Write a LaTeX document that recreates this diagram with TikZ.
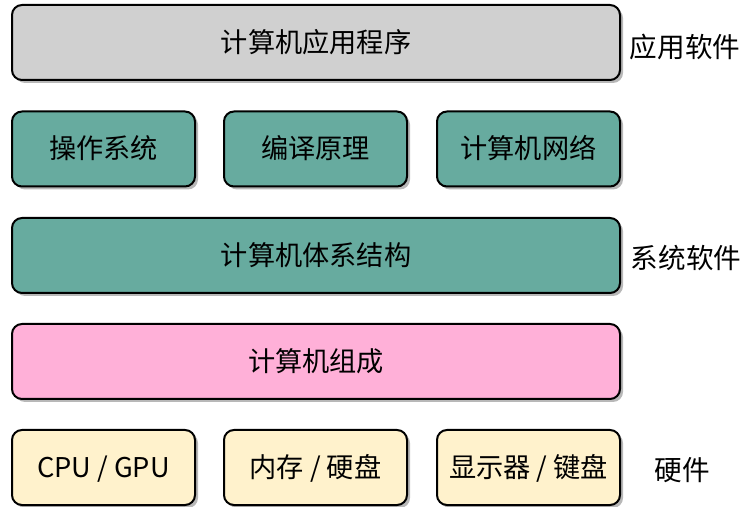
\documentclass[tikz,border=0pt]{standalone}
\usepackage{fontspec}
\setmainfont{Noto Sans CJK SC}
\usetikzlibrary{shadows}
\definecolor{figG}{RGB}{208,208,208}
\definecolor{figT}{RGB}{103,171,159}
\definecolor{figP}{RGB}{255,176,216}
\definecolor{figY}{RGB}{255,242,204}

\begin{document}
\begin{tikzpicture}[x=0.5pt,y=-0.5pt,
  layer/.style={draw,line width=1pt,rounded corners=5pt,text=black,
    minimum height=37.5pt,inner sep=0pt,text height=1.1em,text depth=0.12em,
    font=\fontsize{13.6}{16}\selectfont,
    drop shadow={shadow xshift=1.5pt,shadow yshift=-1.5pt,fill=black!35,opacity=0.8}},
  wide/.style={layer,minimum width=304pt},
  part/.style={layer,minimum width=91.5pt},
  side/.style={font=\fontsize{13.8}{16}\selectfont}]
\useasboundingbox (0,0) rectangle (744,507);
% application layer
\node[wide,fill=figG] (app) at (316,42.5) {计算机应用程序};
% system software
\node[part,fill=figT] (os)  at (103.5,149) {操作系统};
\node[part,fill=figT] (cc)  at (315.5,149) {编译原理};
\node[part,fill=figT] (net) at (528.5,149) {计算机网络};
\node[wide,fill=figT] (arch) at (316,255.5) {计算机体系结构};
% hardware
\node[wide,fill=figP] (org) at (316,361.5) {计算机组成};
\node[part,fill=figY] (cpu) at (103.5,467.5) {CPU / GPU};
\node[part,fill=figY] (mem) at (315.5,467.5) {内存 / 硬盘};
\node[part,fill=figY] (io)  at (528.5,467.5) {显示器 / 键盘};
% side labels
\node[side] (lapp) at (685,47) {应用软件};
\node[side] (lsys) at (686,258) {系统软件};
\node[side] (lhw)  at (682,470) {硬件};
\end{tikzpicture}
\end{document}
